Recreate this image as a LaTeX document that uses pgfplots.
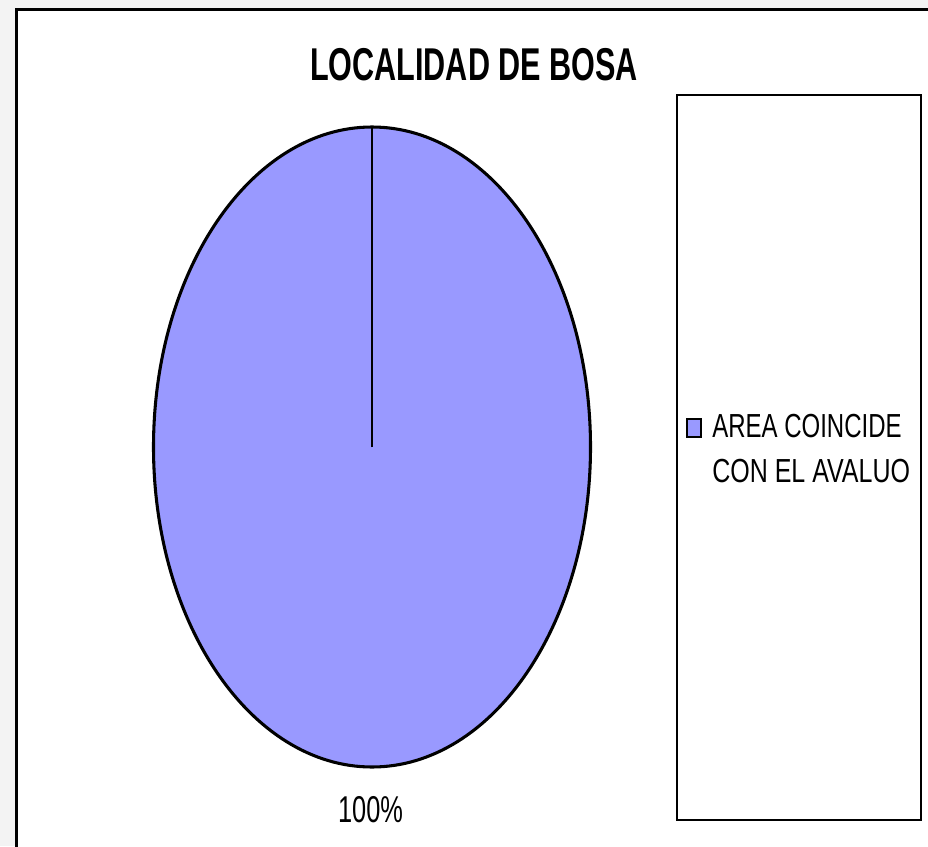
\documentclass[border=0pt]{standalone}
\usepackage{pgfplots}
\pgfplotsset{compat=1.18}
\usepackage{pgfplotstable}
\usepackage{fontspec}
\setmainfont{Liberation Sans}
\usepackage{graphicx}
\definecolor{piecol}{RGB}{153,153,255}
\definecolor{bggray}{RGB}{243,243,243}
\pgfplotstableread{
value
100
}\piedata
\begin{document}
\begin{tikzpicture}
\begin{scope}[x=0.75pt,y=-0.75pt]
\useasboundingbox (0,0) rectangle (928,846);
\fill[bggray] (0,0) rectangle (928,846);
\fill[white] (16,9) rectangle (928,846);
\draw[line width=2.6pt] (16.5,850) -- (16.5,9.5) -- (932,9.5);
\node[anchor=base,inner sep=0] at (474,80) {\fontsize{34.5}{40}\selectfont\bfseries\scalebox{0.665}[1]{LOCALIDAD DE BOSA}};
\draw[line width=1.1pt] (677,95) rectangle (921,820);
\draw[fill=piecol,line width=1.5pt] (687,419) rectangle (701,437);
\node[anchor=base west,inner sep=0] at (712,437) {\fontsize{25}{30}\selectfont\scalebox{0.72}[1]{AREA COINCIDE}};
\node[anchor=base west,inner sep=0] at (712,482) {\fontsize{25}{30}\selectfont\scalebox{0.75}[1]{CON EL AVALUO}};
\node[anchor=base,inner sep=0] at (370.5,822) {\fontsize{28}{32}\selectfont\scalebox{0.68}[1]{100\%}};
\end{scope}
\pgfplotstablegetelem{0}{value}\of\piedata
\pgfmathsetmacro\endang{90-3.6*\pgfplotsretval}
\begin{axis}[at={(279pt,-335.25pt)}, anchor=center, scale only axis,
  width=327.75pt, height=480pt, xmin=-1, xmax=1, ymin=-1, ymax=1,
  hide axis, clip=false]
\draw[fill=piecol,line width=2.3pt] (axis cs:0,0) ellipse [x radius=1, y radius=1];
\draw[line width=1.9pt] (axis cs:0,0) -- (axis cs:{cos(90)},{sin(90)});
\draw[line width=1.9pt] (axis cs:0,0) -- (axis cs:{cos(\endang)},{sin(\endang)});
\end{axis}
\end{tikzpicture}
\end{document}
